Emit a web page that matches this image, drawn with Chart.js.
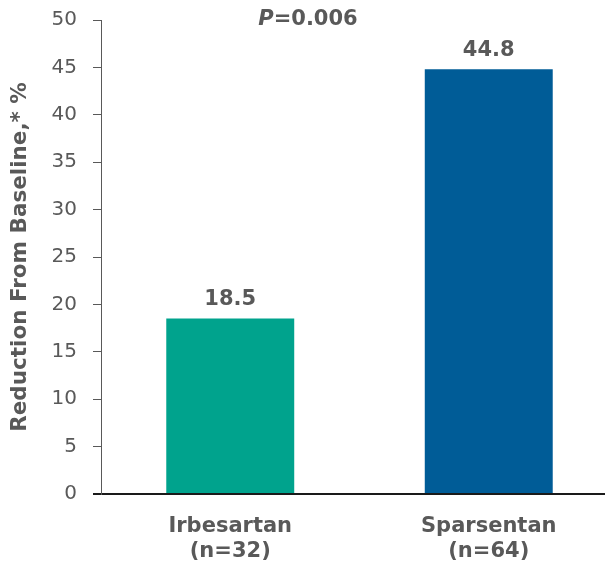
<!DOCTYPE html>
<html>
<head>
<meta charset="utf-8">
<script src="https://cdn.jsdelivr.net/npm/chart.js@4"></script>
<style>
  html, body { margin: 0; padding: 0; background: #ffffff; overflow: hidden; }
  #wrap { width: 605px; height: 563px; overflow: hidden; }
  canvas { display: block; }
</style>
</head>
<body>
<div id="wrap"><canvas id="chart" width="618" height="563"></canvas></div>
<script>
// Treatment groups (two-line axis labels) and their mean reduction from baseline
const categories = [["Irbesartan", "(n=32)"], ["Sparsentan", "(n=64)"]];
const reductions = [18.5, 44.8];
const barColors = ["#00A38D", "#005C97"];
const yTicks = [0, 5, 10, 15, 20, 25, 30, 35, 40, 45, 50];
const yTitle = "Reduction From Baseline,* %";
const pValueLabel = "0.006";

const GREY = "#595959";
const FONT = "'DejaVu Sans', Verdana, sans-serif";

// Value labels above each bar, plus the P-value annotation at the top
const annotations = {
  id: "annotations",
  afterDatasetsDraw(chart) {
    const ctx = chart.ctx;
    const meta = chart.getDatasetMeta(0);
    ctx.save();
    ctx.fillStyle = GREY;
    ctx.font = "bold 21px " + FONT;
    ctx.textAlign = "center";
    ctx.textBaseline = "middle";
    meta.data.forEach((bar, i) => {
      ctx.fillText(reductions[i].toFixed(1), bar.x, bar.y - 19);
    });

    // "P=0.006" with an italic P
    const italic = "italic bold 21px " + FONT;
    const bold = "bold 21px " + FONT;
    ctx.font = italic;
    const wP = ctx.measureText("P").width;
    ctx.font = bold;
    const rest = "=" + pValueLabel;
    const wR = ctx.measureText(rest).width;
    const cx = chart.chartArea.left + 207;
    const y = chart.scales.y.getPixelForValue(50);
    const x = cx - (wP + wR) / 2;
    ctx.textAlign = "left";
    ctx.font = italic;
    ctx.fillText("P", x, y);
    ctx.font = bold;
    ctx.fillText(rest, x + wP, y);
    ctx.restore();
  }
};

new Chart(document.getElementById("chart"), {
  type: "bar",
  data: {
    labels: categories,
    datasets: [{
      data: reductions,
      backgroundColor: barColors,
      borderWidth: 0,
      barPercentage: 0.495,
      categoryPercentage: 1.0
    }]
  },
  options: {
    responsive: false,
    animation: false,
    layout: { padding: { top: 20, left: 0, right: 0, bottom: 0 } },
    plugins: { legend: { display: false }, tooltip: { enabled: false } },
    scales: {
      x: {
        grid: { display: false, drawTicks: false },
        border: { display: true, color: "#1a1a1a", width: 2 },
        ticks: {
          color: GREY,
          padding: 20,
          font: { family: FONT, size: 21, weight: "bold", lineHeight: 1.2 },
          maxRotation: 0
        },
        afterFit(scale) { scale.height = 69; }
      },
      y: {
        min: 0,
        max: 50,
        afterBuildTicks(scale) { scale.ticks = yTicks.map(v => ({ value: v })); },
        grid: {
          drawOnChartArea: false,
          drawTicks: true,
          tickLength: 8,
          color: ctx => (ctx.tick && ctx.tick.value === 0 ? "#1a1a1a" : GREY),
          lineWidth: ctx => (ctx.tick && ctx.tick.value === 0 ? 2 : 1)
        },
        border: { display: true, color: GREY, width: 1 },
        ticks: {
          color: GREY,
          padding: 16,
          font: { family: FONT, size: 20, lineHeight: 0.3 }
        },
        title: {
          display: true,
          text: yTitle,
          color: GREY,
          padding: { top: 8, bottom: 0 },
          font: { family: FONT, size: 21.5, weight: "bold" }
        },
        afterFit(scale) { scale.width = 101; }
      }
    }
  },
  plugins: [annotations]
});
</script>
</body>
</html>
